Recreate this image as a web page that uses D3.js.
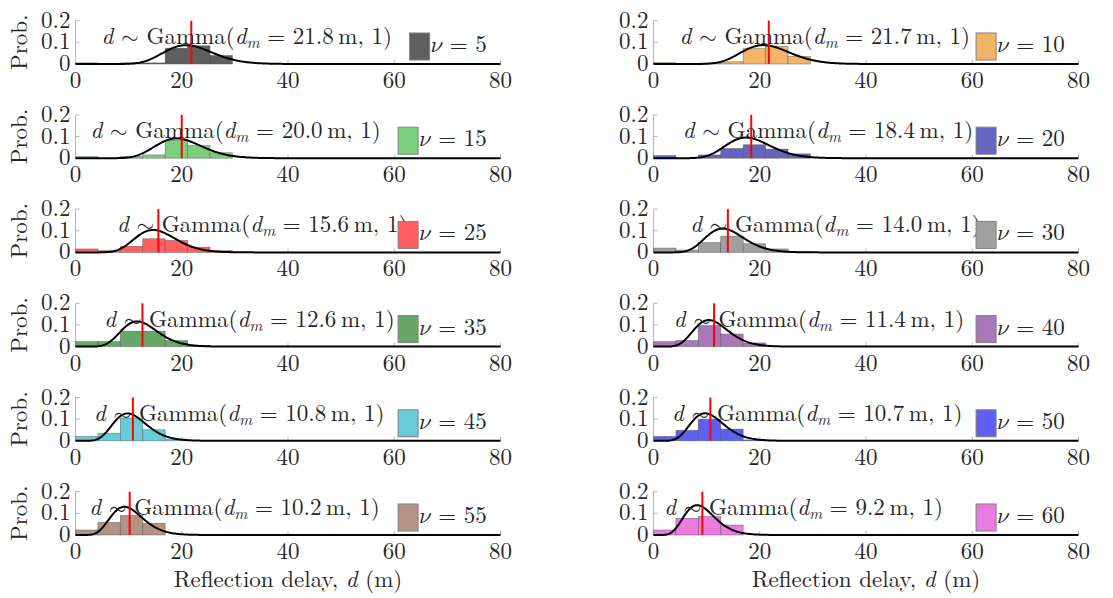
<!DOCTYPE html>
<html lang="en">
<head>
<meta charset="UTF-8"/>
<title>Reflection delay histograms</title>
<script src="https://d3js.org/d3.v7.min.js"></script>
<style>
    body { margin: 0; background: #ffffff; }
</style>
</head>
<body>
<script>
    // ---- data ----
    var nu = [5, 10, 15, 20, 25, 30, 35, 40, 45, 50, 55, 60];
    var dm = [21.8, 21.7, 20.0, 18.4, 15.6, 14.0, 12.6, 11.4, 10.8, 10.7, 10.2, 9.2];
    var binWidth = 4.22;
    // histogram heights (pdf-normalised), one value per bin starting at 0
    var prob5  = [0.005, 0, 0.005, 0.005, 0.073, 0.084, 0.039];
    var prob10 = [0.006, 0, 0.004, 0.010, 0.071, 0.081, 0.035];
    var prob15 = [0.007, 0, 0.007, 0.015, 0.082, 0.058, 0.025];
    var prob20 = [0.012, 0, 0.015, 0.045, 0.062, 0.042, 0.020];
    var prob25 = [0.016, 0.008, 0.028, 0.063, 0.055, 0.024, 0.008];
    var prob30 = [0.020, 0.011, 0.045, 0.075, 0.040, 0.016, 0.003];
    var prob35 = [0.023, 0.023, 0.071, 0.071, 0.028, 0.005];
    var prob40 = [0.023, 0.028, 0.097, 0.058, 0.017];
    var prob45 = [0.020, 0.035, 0.105, 0.051, 0.008];
    var prob50 = [0.020, 0.048, 0.100, 0.054, 0.004];
    var prob55 = [0.023, 0.058, 0.090, 0.054];
    var prob60 = [0.023, 0.077, 0.085, 0.046];
    var probs = [prob5, prob10, prob15, prob20, prob25, prob30,
                 prob35, prob40, prob45, prob50, prob55, prob60];
    var xTicks = [0, 20, 40, 60, 80];
    var yTicks = [0, 0.1, 0.2];

    // ---- styling / layout ----
    var palette = ["#5f5f5f", "#f3b366", "#7ccf7c", "#6565c1", "#ff5f5f", "#a0a0a0",
                   "#67a867", "#a878b8", "#67ccd8", "#5f5ff4", "#b29384", "#ea7be0"];
    var labelStart = [4.9, 4.9, 2.8, 5.5, 7.8, 6.9, 5.4, 3.8, 3.5, 3.5, 2.6, 2.0];
    var w = 1113, h = 598;
    var colX = [75.5, 653.5];
    var plotW = 425;
    var plotH = 43.3;
    var firstBase = 64, rowStep = 94.2;
    var fs = 23;
    var fontFam = "Latin Modern Roman";
    var mathFam = "Latin Modern Math";

    function lnGamma(z) {
        var c = [0.99999999999980993, 676.5203681218851, -1259.1392167224028,
                 771.32342877765313, -176.61502916214059, 12.507343278686905,
                 -0.13857109526572012, 9.9843695780195716e-6, 1.5056327351493116e-7];
        z -= 1;
        var s = c[0];
        for (var i = 1; i < 9; i++) s += c[i] / (z + i);
        var t = z + 7.5;
        return 0.5 * Math.log(2 * Math.PI) + (z + 0.5) * Math.log(t) - t + Math.log(s);
    }
    function gammaPdf(x, k) {
        if (x <= 0) return 0;
        return Math.exp((k - 1) * Math.log(x) - x - lnGamma(k));
    }

    var svg = d3.select("body").append("svg")
        .attr("width", w)
        .attr("height", h);

    var curveX = d3.range(0, 80.001, 0.25);

    function txt(sel) {
        return sel.append("text")
            .attr("font-family", fontFam)
            .attr("fill", "#262626")
            .attr("font-size", fs);
    }

    nu.forEach(function (n, p) {
        var col = p % 2, row = Math.floor(p / 2);
        var base = firstBase + row * rowStep;

        var xScale = d3.scaleLinear().domain([0, 80]).range([colX[col], colX[col] + plotW]);
        var yScale = d3.scaleLinear().domain([0, 0.2]).range([base, base - plotH]);

        var g = svg.append("g");

        // y axis line + ticks
        g.append("line")
            .attr("x1", xScale(0)).attr("x2", xScale(0))
            .attr("y1", yScale(0)).attr("y2", yScale(0.2))
            .attr("stroke", "#b5b5b5").attr("stroke-width", 1);
        g.selectAll(".ytick").data(yTicks.slice(1)).enter().append("line")
            .attr("x1", xScale(0)).attr("x2", xScale(0) + 4)
            .attr("y1", function (d) { return yScale(d); })
            .attr("y2", function (d) { return yScale(d); })
            .attr("stroke", "#b5b5b5");
        g.selectAll(".xtick").data(xTicks.slice(1)).enter().append("line")
            .attr("x1", function (d) { return xScale(d); })
            .attr("x2", function (d) { return xScale(d); })
            .attr("y1", yScale(0)).attr("y2", yScale(0) - 4)
            .attr("stroke", "#b5b5b5");

        // tick labels
        yTicks.forEach(function (d) {
            txt(g).attr("x", xScale(0) - 5)
                .attr("y", yScale(d) + 7)
                .attr("text-anchor", "end")
                .text(d === 0 ? "0" : d.toFixed(1));
        });
        xTicks.forEach(function (d) {
            txt(g).attr("x", xScale(d))
                .attr("y", yScale(0) + 24)
                .attr("text-anchor", "middle")
                .text(d);
        });

        // histogram
        g.selectAll(".bar").data(probs[p]).enter().append("rect")
            .attr("x", function (d, i) { return xScale(i * binWidth); })
            .attr("width", xScale(binWidth) - xScale(0))
            .attr("y", function (d) { return yScale(d); })
            .attr("height", function (d) { return yScale(0) - yScale(d); })
            .attr("fill", palette[p])
            .attr("stroke", "#4d4d4d")
            .attr("stroke-opacity", 0.6)
            .attr("stroke-width", 0.7);

        // gamma fit
        var line = d3.line()
            .x(function (d) { return xScale(d); })
            .y(function (d) { return yScale(gammaPdf(d, dm[p])); });
        g.append("path")
            .datum(curveX)
            .attr("d", line)
            .attr("fill", "none")
            .attr("stroke", "#000")
            .attr("stroke-width", 2);

        // mean marker
        g.append("line")
            .attr("x1", xScale(dm[p])).attr("x2", xScale(dm[p]))
            .attr("y1", yScale(0)).attr("y2", yScale(0.2))
            .attr("stroke", "#ff0000").attr("stroke-width", 2);

        // annotation
        var t = txt(g)
            .attr("x", xScale(labelStart[p]))
            .attr("y", yScale(0) - 20);
        t.append("tspan").attr("font-style", "italic").text("d");
        t.append("tspan").text(" ");
        t.append("tspan").attr("font-family", mathFam).text("\u223C");
        t.append("tspan").text(" Gamma(");
        t.append("tspan").attr("font-style", "italic").text("d");
        t.append("tspan").attr("font-style", "italic").attr("font-size", 16)
            .attr("dy", 4).text("m");
        t.append("tspan").attr("dy", -4).text(" = " + dm[p].toFixed(1) + "\u2009m, 1)");

        // legend
        var lg = txt(g)
            .attr("x", xScale(77.4))
            .attr("y", yScale(0) - 12)
            .attr("text-anchor", "end");
        lg.append("tspan").attr("font-family", mathFam).text("\uD835\uDF08");
        lg.append("tspan").text(" = " + n);
        var tw = lg.node().getComputedTextLength();
        g.append("rect")
            .attr("x", xScale(77.4) - tw - 21)
            .attr("y", yScale(0) - 31)
            .attr("width", 20)
            .attr("height", 27)
            .attr("fill", palette[p])
            .attr("stroke", "#808080")
            .attr("stroke-width", 1);

        if (col === 0) {
            txt(g)
                .attr("transform", "translate(" + 27 + "," + yScale(0.1) + ") rotate(-90)")
                .attr("text-anchor", "middle")
                .text("Prob.");
        }
        if (row === 5) {
            var xl = txt(g)
                .attr("x", xScale(40))
                .attr("y", yScale(0) + 52)
                .attr("text-anchor", "middle");
            xl.append("tspan").text("Reflection delay, ");
            xl.append("tspan").attr("font-style", "italic").text("d");
            xl.append("tspan").text(" (m)");
        }
    });
</script>
</body>
</html>
